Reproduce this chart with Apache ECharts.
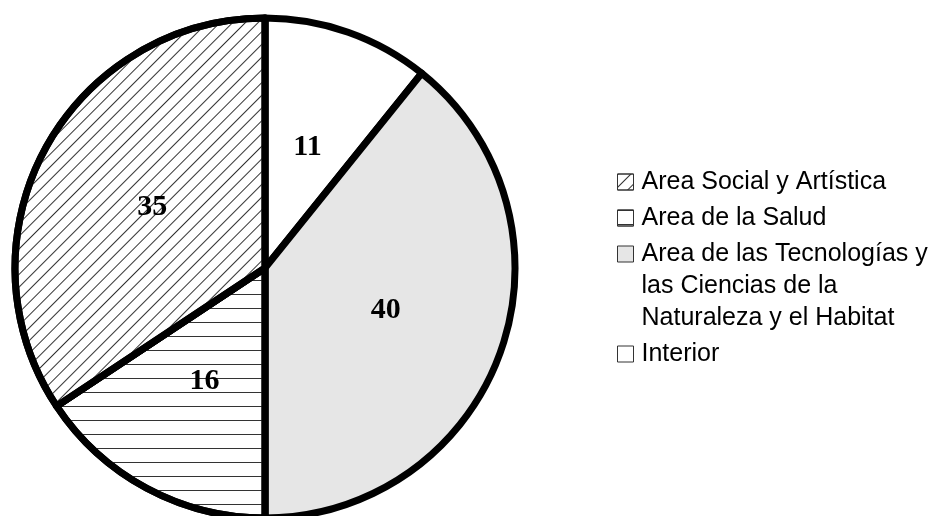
<!DOCTYPE html>
<html>
<head>
<meta charset="utf-8">
<script src="https://cdn.jsdelivr.net/npm/echarts@6/dist/echarts.min.js"></script>
<style>
  html, body { margin: 0; padding: 0; background: #fff; }
  #chart { width: 941px; height: 516px; }
</style>
</head>
<body>
<div id="chart"></div>
<script>
// slices, clockwise from 12 o'clock
const categories = ["Interior", "Area de las Tecnologías y las Ciencias de la Naturaleza y el Habitat", "Area de la Salud", "Area Social y Artística"];
const values = [11, 40, 16, 35];
// legend order (top to bottom)
const legendOrder = ["Area Social y Artística", "Area de la Salud", "Area de las Tecnologías y las Ciencias de la Naturaleza y el Habitat", "Interior"];
const legendText = {
  "Area de las Tecnologías y las Ciencias de la Naturaleza y el Habitat": "Area de las Tecnologías y\nlas Ciencias de la\nNaturaleza y el Habitat"
};

const fills = ["#ffffff", "#e6e6e6", "#ffffff", "#ffffff"];
const decals = [
  null,
  null,
  { symbol: "rect", symbolSize: 1, dashArrayX: [1, 0], dashArrayY: [1, 13], rotation: 0, color: "#333" },
  { symbol: "rect", symbolSize: 1, dashArrayX: [1, 0], dashArrayY: [1, 8], rotation: -Math.PI / 4, color: "#333" }
];

const chart = echarts.init(document.getElementById("chart"));

// blank lines keep each icon level with the first text line (text is centred on the icon)
function legendLabel(n) {
  const t = legendText[n] || n;
  const below = t.split("\n").length - 1;
  const pad = n === "Area de la Salud" ? 0 : 2;
  return "\n".repeat(pad) + t + "\n".repeat(Math.max(0, pad - below));
}

chart.setOption({
  backgroundColor: "#fff",
  animation: false,
  legend: {
    orient: "vertical",
    left: 617,
    top: 102,
    padding: 0,
    itemWidth: 16,
    itemHeight: 16,
    itemGap: -60,
    icon: "rect",
    selectedMode: false,
    itemStyle: { borderColor: "#333", borderWidth: 1 },
    textStyle: { fontFamily: "Liberation Sans", fontSize: 25, lineHeight: 32, color: "#000", padding: [0, 0, 0, 3] },
    data: legendOrder,
    formatter: legendLabel
  },
  series: [{
    type: "pie",
    center: [265, 268],
    radius: 250,
    startAngle: 90,
    clockwise: true,
    silent: true,
    itemStyle: { borderColor: "#000", borderWidth: 7 },
    label: {
      position: "inside",
      formatter: "{c}",
      fontFamily: "Liberation Serif",
      fontWeight: "bold",
      fontSize: 30,
      color: "#000"
    },
    labelLine: { show: false },
    emphasis: { disabled: true },
    data: categories.map((c, i) => ({
      name: c,
      value: values[i],
      itemStyle: decals[i] ? { color: fills[i], decal: decals[i] } : { color: fills[i] }
    }))
  }]
});
</script>
</body>
</html>
